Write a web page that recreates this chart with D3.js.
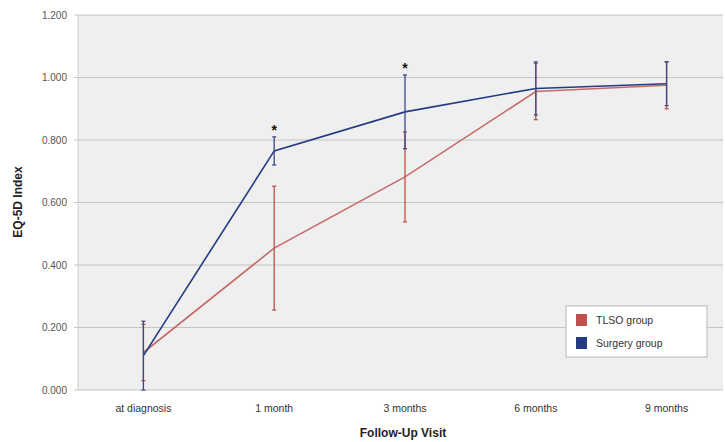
<!DOCTYPE html>
<html>
<head>
<meta charset="utf-8">
<script src="https://cdn.jsdelivr.net/npm/d3@7"></script>
<style>
  body { margin: 0; background: #fff; }
  svg { font-family: "Liberation Sans", Arial, sans-serif; }
</style>
</head>
<body>
<svg id="chart" width="725" height="442"></svg>
<script>
const visits = ['at diagnosis', '1 month', '3 months', '6 months', '9 months']
const tlsoMean = [0.120, 0.454, 0.682, 0.955, 0.975]
const tlsoErr = [0.090, 0.198, 0.144, 0.090, 0.075]
const surgeryMean = [0.110, 0.765, 0.890, 0.965, 0.980]
const surgeryErr = [0.110, 0.045, 0.118, 0.085, 0.070]
const starred = ['1 month', '3 months']
const yTicks = [0, 0.2, 0.4, 0.6, 0.8, 1.0, 1.2]

const tlsoColor = '#c0504d'
const tlsoLine = '#c66a6a'
const surgeryColor = '#243a82'

const plotLeft = 78
const plotRight = 723
const plotTop = 15
const plotBottom = 390

const svg = d3.select('#chart')

const xScale = d3.scaleBand()
  .domain(visits)
  .range([plotLeft, 732])
const xc = d => xScale(d) + xScale.bandwidth() / 2

const yScale = d3.scaleLinear()
  .domain([0, 1.2])
  .range([plotBottom, plotTop])

svg.append('rect')
  .attr('x', plotLeft)
  .attr('y', plotTop)
  .attr('width', plotRight - plotLeft)
  .attr('height', plotBottom - plotTop)
  .attr('fill', '#efefef')

// grid lines
svg.append('g')
  .selectAll('line')
  .data(yTicks)
  .join('line')
    .attr('x1', plotLeft - 4)
    .attr('x2', plotRight)
    .attr('y1', d => yScale(d))
    .attr('y2', d => yScale(d))
    .attr('stroke', '#c4c4c4')
    .attr('stroke-width', 1)

svg.append('line')
  .attr('x1', plotLeft).attr('x2', plotLeft)
  .attr('y1', plotTop).attr('y2', plotBottom)
  .attr('stroke', '#cfcfcf')

// y axis
const yAxis = svg.append('g')
  .attr('transform', `translate(${plotLeft},0)`)
  .call(d3.axisLeft(yScale).tickValues(yTicks).tickFormat(d3.format('.3f')).tickSize(0).tickPadding(11))
yAxis.select('.domain').remove()
yAxis.selectAll('text')
  .attr('font-size', 10)
  .attr('fill', '#555')
  .attr('font-family', '"Liberation Sans", Arial, sans-serif')

// x axis
const xAxis = svg.append('g')
  .attr('transform', `translate(0,${plotBottom})`)
  .call(d3.axisBottom(xScale).tickSize(0).tickPadding(15))
xAxis.select('.domain').remove()
xAxis.selectAll('text')
  .attr('font-size', 10.5)
  .attr('fill', '#333')
  .attr('font-family', '"Liberation Sans", Arial, sans-serif')

svg.append('text')
  .attr('x', 403)
  .attr('y', 437)
  .attr('text-anchor', 'middle')
  .attr('font-size', 12)
  .attr('font-weight', 'bold')
  .attr('fill', '#222')
  .text('Follow-Up Visit')

svg.append('text')
  .attr('transform', 'translate(22,202) rotate(-90)')
  .attr('text-anchor', 'middle')
  .attr('font-size', 12)
  .attr('font-weight', 'bold')
  .attr('fill', '#222')
  .text('EQ-5D Index')

function drawSeries (means, errs, lineColor, barColor) {
  const pts = visits.map((v, i) => ({ v, m: means[i], e: errs[i] }))
  const g = svg.append('g')
  g.append('path')
    .datum(pts)
    .attr('fill', 'none')
    .attr('stroke', lineColor)
    .attr('stroke-width', 1.6)
    .attr('d', d3.line()
      .x(d => xc(d.v))
      .y(d => yScale(d.m)))
  const bars = g.selectAll('g.err')
    .data(pts)
    .join('g')
      .attr('class', 'err')
  bars.append('line')
    .attr('x1', d => xc(d.v)).attr('x2', d => xc(d.v))
    .attr('y1', d => yScale(d.m - d.e))
    .attr('y2', d => yScale(d.m + d.e))
    .attr('stroke', barColor)
    .attr('stroke-width', 1.3)
  bars.selectAll('line.cap')
    .data(d => [d.m - d.e, d.m + d.e].map(y => ({ v: d.v, y })))
    .join('line')
      .attr('class', 'cap')
      .attr('x1', d => xc(d.v) - 2).attr('x2', d => xc(d.v) + 2)
      .attr('y1', d => yScale(d.y)).attr('y2', d => yScale(d.y))
      .attr('stroke', barColor)
      .attr('stroke-width', 1.3)
}

drawSeries(tlsoMean, tlsoErr, tlsoLine, tlsoColor)
drawSeries(surgeryMean, surgeryErr, surgeryColor, '#3a4a88')

// significance markers
svg.append('g')
  .selectAll('text')
  .data(starred)
  .join('text')
    .attr('x', d => xc(d))
    .attr('y', d => yScale(surgeryMean[visits.indexOf(d)] + surgeryErr[visits.indexOf(d)]) - 2)
    .attr('text-anchor', 'middle')
    .attr('font-size', 14)
    .attr('font-weight', 'bold')
    .attr('fill', '#111')
    .text('*')

// legend
const legend = svg.append('g').attr('transform', 'translate(566,306)')
legend.append('rect')
  .attr('width', 141).attr('height', 51)
  .attr('fill', '#fff')
  .attr('stroke', '#b8b8b8')
const legendItems = [['TLSO group', tlsoColor], ['Surgery group', surgeryColor]]
const li = legend.selectAll('g.item')
  .data(legendItems)
  .join('g')
    .attr('class', 'item')
    .attr('transform', (d, i) => `translate(10,${8 + i * 23})`)
li.append('rect')
  .attr('width', 11).attr('height', 12)
  .attr('fill', d => d[1])
li.append('text')
  .attr('x', 20).attr('y', 10)
  .attr('font-size', 10.5)
  .attr('fill', '#333')
  .text(d => d[0])
</script>
</body>
</html>
